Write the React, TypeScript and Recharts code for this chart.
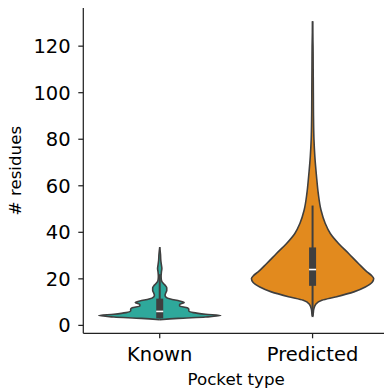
import React from 'react';
import { ComposedChart, Area, XAxis, YAxis, ReferenceLine, Label } from 'recharts';

const categories = ['Known', 'Predicted'];
const fills = ['#2ea89b', '#e28a1e'];
const edge = '#3f3f3f';

// violin outline: [value, half width in category units]
const knownProfile = [
  [2.4, 0], [3.0, 0.12], [3.6, 0.3], [4.2, 0.4], [4.8, 0.3], [5.5, 0.22],
  [6.3, 0.19], [7.0, 0.19], [7.6, 0.18], [8.3, 0.13], [9.0, 0.13], [9.8, 0.16],
  [10.5, 0.13], [11.3, 0.07], [12.2, 0.04], [13.0, 0.035], [14.0, 0.04],
  [15.0, 0.046], [16.2, 0.046], [17.3, 0.035], [18.3, 0.02], [19.5, 0.011],
  [21, 0.009], [23, 0.011], [24.5, 0.014], [26, 0.011], [28, 0.007],
  [30.5, 0.005], [33.6, 0],
];
const predictedProfile = [
  [3.6, 0], [5, 0.004], [7, 0.008], [9, 0.02], [10.8, 0.061], [12.2, 0.149],
  [14.4, 0.27], [16.5, 0.345], [18.5, 0.39], [20.1, 0.4], [21.5, 0.385],
  [23, 0.356], [26.6, 0.3], [30.9, 0.236], [35.2, 0.17], [39.5, 0.116],
  [43.8, 0.083], [49.6, 0.055], [56.8, 0.037], [63.9, 0.026], [72.5, 0.015],
  [80, 0.009], [90, 0.006], [100, 0.005], [110, 0.004], [120, 0.003], [130.7, 0],
];

// inner box
const q1 = [3, 17];
const median = [6, 24];
const q3 = [11.5, 33.5];
const whiskerLow = [3, 4];
const whiskerHigh = [22, 51.5];

const yTicks = [0, 20, 40, 60, 80, 100, 120];

const profiles = [knownProfile, predictedProfile];
const levels = Array.from(new Set(profiles.flatMap(p => p.map(d => d[0])))).sort((a, b) => a - b);
const rows = levels.map(v => {
  const row: any = { v };
  profiles.forEach((p, i) => {
    const hit = p.find(d => d[0] === v);
    row[categories[i]] = hit ? [i - hit[1], i + hit[1]] : [null, null];
  });
  return row;
});

const tickStyle = { fontSize: 19.5, fill: '#000', fontFamily: 'DejaVu Sans' };

export default function App() {
  const boxes = categories.flatMap((c, i) => [
    <ReferenceLine key={c + '-w'} segment={[{ x: i, y: whiskerLow[i] }, { x: i, y: whiskerHigh[i] }]} stroke={edge} strokeWidth={2} />,
    <ReferenceLine key={c + '-b'} segment={[{ x: i, y: q1[i] }, { x: i, y: q3[i] }]} stroke={edge} strokeWidth={7} />,
    <ReferenceLine key={c + '-m'} segment={[{ x: i - 0.023, y: median[i] }, { x: i + 0.023, y: median[i] }]} stroke="#fff" strokeWidth={1.6} />,
  ]);

  return (
    <div style={{ width: 384, height: 391, overflow: 'hidden', background: '#fff' }}>
      <style>{'body{margin:0}'}</style>
      <ComposedChart
        width={392}
        height={391}
        data={rows}
        layout="vertical"
        margin={{ top: 8, right: 3, bottom: 0, left: 0 }}
      >
        <XAxis
          type="number"
          domain={[-0.5, 1.5]}
          ticks={[0, 1]}
          allowDataOverflow
          tickFormatter={(t: number) => categories[t]}
          tick={tickStyle}
          tickSize={5}
          tickMargin={9}
          height={57.7}
          axisLine={{ stroke: '#222', strokeWidth: 1.25 }}
          tickLine={{ stroke: '#222', strokeWidth: 1.25 }}
        >
          <Label value="Pocket type" position="insideBottom" offset={6} style={{ fontSize: 16.7, fill: '#000', fontFamily: 'DejaVu Sans' }} />
        </XAxis>
        <XAxis
          xAxisId="top"
          orientation="top"
          type="number"
          domain={[-0.5, 1.5]}
          tick={false}
          tickLine={false}
          height={0}
          axisLine={{ stroke: '#222', strokeWidth: 1.25 }}
        />
        <YAxis
          type="number"
          dataKey="v"
          domain={[-3.4, 136.4]}
          ticks={yTicks}
          allowDataOverflow
          reversed
          width={83.3}
          tick={tickStyle}
          tickSize={5}
          tickMargin={7.6}
          axisLine={{ stroke: '#222', strokeWidth: 1.25 }}
          tickLine={{ stroke: '#222', strokeWidth: 1.25 }}
        >
          <Label value="# residues" angle={-90} position="insideLeft" offset={15} style={{ fontSize: 16.7, fill: '#000', fontFamily: 'DejaVu Sans', textAnchor: 'middle' }} />
        </YAxis>
        {categories.map((c, i) => (
          <Area
            key={c}
            dataKey={c}
            type="monotone"
            fill={fills[i]}
            fillOpacity={1}
            stroke={edge}
            strokeWidth={1.6}
            connectNulls
            dot={false}
            activeDot={false}
            isAnimationActive={false}
          />
        ))}
        {boxes}
      </ComposedChart>
    </div>
  );
}
